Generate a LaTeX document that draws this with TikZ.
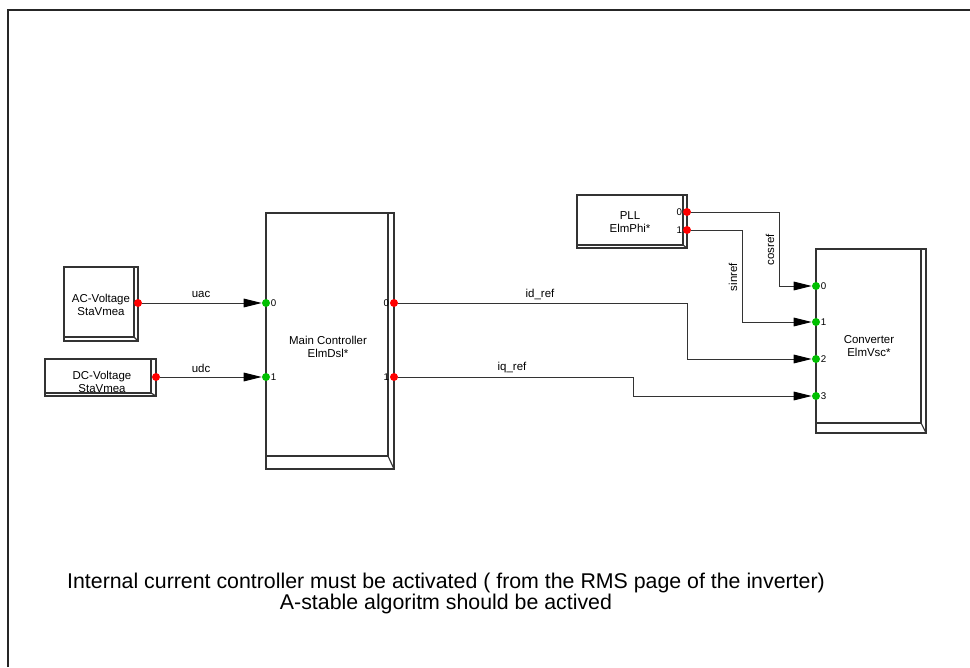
\documentclass[tikz,border=0pt]{standalone}
\usepackage{fontspec}
\setmainfont{Liberation Sans}
\usetikzlibrary{arrows.meta,fit}
\newcommand\bevbox[7]{%
  \node[box, fit={(#2,#3)(#4,#5)}] (#1) {};
  \draw[bev] ({#4-#6},#3) -- ({#4-#6},{#5-#7}) -- (#2,{#5-#7});
  \draw[bev] ({#4-#6},{#5-#7}) -- (#4,#5);
}
\begin{document}
\begin{tikzpicture}[x=0.75pt,y=-0.75pt,
  box/.style={draw=black!80, line width=0.85pt, inner sep=0pt, fill=white},
  bev/.style={draw=black!80, line width=0.85pt},
  frameline/.style={draw=black!85, line width=1.5pt},
  lbl/.style={font=\fontsize{8.6}{10}\selectfont, align=center, inner sep=0pt},
  elbl/.style={font=\fontsize{8.6}{10}\selectfont, inner sep=0pt},
  pnum/.style={font=\fontsize{7.3}{8}\selectfont, inner sep=0.5pt},
  rdot/.style={circle, fill=red, inner sep=0pt, minimum size=6pt},
  gdot/.style={circle, fill=green!75!black, inner sep=0pt, minimum size=6pt},
  conn/.style={draw=black!80, line width=0.75pt},
  arr/.style={conn, -{Triangle[length=13.5pt,width=6.5pt,fill=black,color=black]}},
  btxt/.style={font=\fontsize{16}{15.75}\selectfont, align=center, inner sep=0pt}
]
\useasboundingbox (0,0) rectangle (970,667);
\fill[white] (0,0) rectangle (970,667);
\draw[frameline] (8,667) -- (8,10) -- (970,10);

\bevbox{ac}{64}{267}{138}{341}{4}{4}
\bevbox{dc}{45}{359}{156}{396}{5}{3}
\bevbox{mc}{266}{213}{394}{469}{6}{13}
\bevbox{pll}{577}{195}{687}{248}{4}{3}
\bevbox{cv}{816}{249}{926}{433}{5}{10}

\node[lbl] (actext) at (101,305) {AC-Voltage\\StaVmea};
\node[lbl] (dctext) at (102,382) {DC-Voltage\\StaVmea};
\node[lbl] (mctext) at (328,347) {Main Controller\\ElmDsl*};
\node[lbl] (plltext) at (630,222) {PLL\\ElmPhi*};
\node[lbl] (cvtext) at (869,346) {Converter\\ElmVsc*};

\node[rdot] (ac-o) at (138,303) {};
\node[rdot] (dc-o) at (156,377) {};
\node[gdot] (mc-i0) at (266,303) {};
\node[gdot] (mc-i1) at (266,377) {};
\node[rdot] (mc-o0) at (394,303) {};
\node[rdot] (mc-o1) at (394,377) {};
\node[rdot] (pll-o0) at (687,212) {};
\node[rdot] (pll-o1) at (687,230) {};
\node[gdot] (cv-i0) at (816,286) {};
\node[gdot] (cv-i1) at (816,322) {};
\node[gdot] (cv-i2) at (816,359) {};
\node[gdot] (cv-i3) at (816,396) {};

\node[pnum, anchor=west] (n-mi0) at (270,303) {0};
\node[pnum, anchor=west] (n-mi1) at (270,377) {1};
\node[pnum, anchor=east] (n-mo0) at (390,303) {0};
\node[pnum, anchor=east] (n-mo1) at (390,377) {1};
\node[pnum, anchor=east] (n-po0) at (683,212) {0};
\node[pnum, anchor=east] (n-po1) at (683,230) {1};
\node[pnum, anchor=west] (n-c0) at (820,286) {0};
\node[pnum, anchor=west] (n-c1) at (820,322) {1};
\node[pnum, anchor=west] (n-c2) at (820,359) {2};
\node[pnum, anchor=west] (n-c3) at (820,396) {3};

\coordinate (c1) at (779,286);
\coordinate (c2) at (742,322);
\coordinate (c3) at (687,359);
\coordinate (c4) at (633,396);

\draw[arr] (ac-o) -- (mc-i0);
\draw[arr] (dc-o) -- (mc-i1);
\draw[arr] (pll-o0) -| (c1) -- (cv-i0);
\draw[arr] (pll-o1) -| (c2) -- (cv-i1);
\draw[arr] (mc-o0) -| (c3) -- (cv-i2);
\draw[arr] (mc-o1) -| (c4) -- (cv-i3);

\node[elbl] (l-uac) at (201,294) {uac};
\node[elbl] (l-udc) at (201,368) {udc};
\node[elbl] (l-id) at (540,294) {id\_ref};
\node[elbl] (l-iq) at (512,368) {iq\_ref};
\node[elbl, rotate=90] (l-cos) at (770,250) {cosref};
\node[elbl, rotate=90] (l-sin) at (733,277) {sinref};

\node[btxt] (note) at (446,593) {Internal current controller must be activated ( from the RMS page of the inverter)\\A-stable algoritm should be actived};
\end{tikzpicture}
\end{document}
